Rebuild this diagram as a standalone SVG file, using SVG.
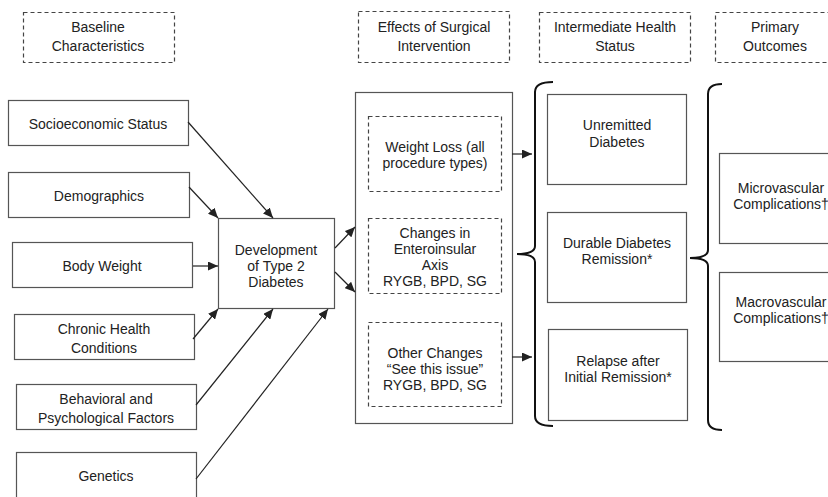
<svg xmlns="http://www.w3.org/2000/svg" width="828" height="497" viewBox="0 0 828 497">
<defs>
<style>
.box{fill:#fff;stroke:#555;stroke-width:1.2}
.dash{fill:none;stroke:#444;stroke-width:1.2;stroke-dasharray:4,3}
.lbl{font-family:"Liberation Sans",Arial,sans-serif;font-size:14px;fill:#222;text-anchor:middle}
.conn{stroke:#222;stroke-width:1.2;fill:none}
.brace{stroke:#111;stroke-width:2;fill:none}
</style>
<marker id="ah" markerUnits="userSpaceOnUse" markerWidth="11" markerHeight="9" refX="10" refY="4.5" orient="auto">
<path d="M0,0 L10,4.5 L0,9 z" fill="#222"/>
</marker>
</defs>
<rect width="828" height="497" fill="#fff"/>

<g id="hdr-baseline"><rect class="dash" x="23.5" y="12.5" width="151" height="50"/>
<text class="lbl" x="98" y="32">Baseline</text><text class="lbl" x="98" y="51">Characteristics</text></g>
<g id="hdr-effects"><rect class="dash" x="358.5" y="11.5" width="151" height="51"/>
<text class="lbl" x="434" y="32">Effects of Surgical</text><text class="lbl" x="434" y="51">Intervention</text></g>
<g id="hdr-intermediate"><rect class="dash" x="539.5" y="12.5" width="151" height="50"/>
<text class="lbl" x="615" y="32">Intermediate Health</text><text class="lbl" x="615" y="51">Status</text></g>
<g id="hdr-primary"><rect class="dash" x="715.5" y="12.5" width="125" height="50"/>
<text class="lbl" x="775" y="32">Primary</text><text class="lbl" x="775" y="51">Outcomes</text></g>

<g id="ses"><rect class="box" x="8.5" y="100.5" width="180" height="45"/><text class="lbl" x="98" y="129">Socioeconomic Status</text></g>
<g id="demo"><rect class="box" x="8.5" y="172.5" width="181" height="45"/><text class="lbl" x="99" y="201">Demographics</text></g>
<g id="bw"><rect class="box" x="12.5" y="242.5" width="180" height="45"/><text class="lbl" x="102" y="271">Body Weight</text></g>
<g id="chc"><rect class="box" x="14.5" y="314.5" width="180" height="45"/><text class="lbl" x="104" y="334">Chronic Health</text><text class="lbl" x="104" y="353">Conditions</text></g>
<g id="beh"><rect class="box" x="16.5" y="384.5" width="180" height="45"/><text class="lbl" x="106" y="404">Behavioral and</text><text class="lbl" x="106" y="423">Psychological Factors</text></g>
<g id="gen"><rect class="box" x="16.5" y="452.5" width="180" height="60"/><text class="lbl" x="106" y="481">Genetics</text></g>

<g id="dev"><rect class="box" x="218.5" y="218.5" width="116" height="90"/>
<text class="lbl" x="276" y="255">Development</text><text class="lbl" x="276" y="271">of Type 2</text><text class="lbl" x="276" y="287">Diabetes</text></g>

<g id="effects"><rect class="box" x="355.5" y="92.5" width="157" height="331"/>
<g id="wl"><rect class="dash" x="368.5" y="116.5" width="133" height="75"/>
<text class="lbl" x="435" y="152">Weight Loss (all</text><text class="lbl" x="435" y="168">procedure types)</text></g>
<g id="eia"><rect class="dash" x="368.5" y="218.5" width="133" height="75"/>
<text class="lbl" x="435" y="238">Changes in</text><text class="lbl" x="435" y="254">Enteroinsular</text><text class="lbl" x="435" y="270">Axis</text><text class="lbl" x="435" y="286">RYGB, BPD, SG</text></g>
<g id="oth"><rect class="dash" x="368.5" y="322.5" width="133" height="84"/>
<text class="lbl" x="435" y="358">Other Changes</text><text class="lbl" x="435" y="374">“See this issue”</text><text class="lbl" x="435" y="390">RYGB, BPD, SG</text></g>
</g>

<g id="unrem"><rect class="box" x="547.5" y="94.5" width="139" height="90"/><text class="lbl" x="617" y="130">Unremitted</text><text class="lbl" x="617" y="147">Diabetes</text></g>
<g id="durable"><rect class="box" x="547.5" y="212.5" width="139" height="90"/><text class="lbl" x="617" y="248">Durable Diabetes</text><text class="lbl" x="617" y="264">Remission*</text></g>
<g id="relapse"><rect class="box" x="548.5" y="329.5" width="139" height="91"/><text class="lbl" x="618" y="366">Relapse after</text><text class="lbl" x="618" y="382">Initial Remission*</text></g>

<g id="micro"><rect class="box" x="719.5" y="153.5" width="130" height="90"/><text class="lbl" x="781" y="193">Microvascular</text><text class="lbl" x="781" y="209">Complications†</text></g>
<g id="macro"><rect class="box" x="719.5" y="272.5" width="130" height="89"/><text class="lbl" x="781" y="307">Macrovascular</text><text class="lbl" x="781" y="323">Complications†</text></g>

<g id="connectors">
<line class="conn" x1="188" y1="122" x2="273" y2="218" marker-end="url(#ah)"/>
<line class="conn" x1="189" y1="187" x2="218" y2="218" marker-end="url(#ah)"/>
<line class="conn" x1="193" y1="266" x2="218" y2="266" marker-end="url(#ah)"/>
<line class="conn" x1="193" y1="339" x2="218" y2="309" marker-end="url(#ah)"/>
<line class="conn" x1="196" y1="405" x2="273" y2="309" marker-end="url(#ah)"/>
<line class="conn" x1="196" y1="479" x2="328" y2="309" marker-end="url(#ah)"/>
<line class="conn" x1="335" y1="248" x2="355" y2="227" marker-end="url(#ah)"/>
<line class="conn" x1="335" y1="272" x2="355" y2="292" marker-end="url(#ah)"/>
<line class="conn" x1="512" y1="154" x2="532" y2="154" marker-end="url(#ah)"/>
<line class="conn" x1="512" y1="357" x2="532" y2="357" marker-end="url(#ah)"/>
<path class="brace" d="M553,82 Q535,82 535,92 L535,246 Q535,254 517,254 Q535,254 535,262 L535,416 Q535,426 553,426"/>
<path class="brace" d="M722,84 Q708,84 708,94 L708,250 Q708,258 690,258 Q708,258 708,266 L708,420 Q708,430 722,430"/>
</g>
</svg>
